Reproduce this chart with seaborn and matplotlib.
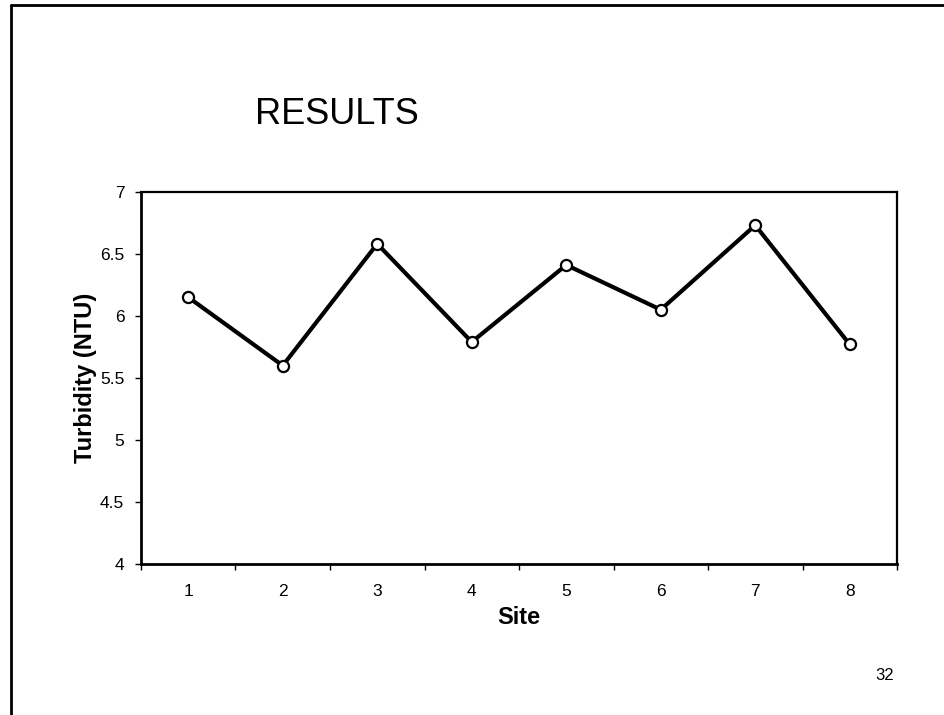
import matplotlib
matplotlib.use("Agg")
import matplotlib.pyplot as plt
from matplotlib.lines import Line2D
import seaborn as sns
import pandas as pd

sites = [1, 2, 3, 4, 5, 6, 7, 8]
turbidity = [6.15, 5.60, 6.58, 5.79, 6.41, 6.05, 6.73, 5.77]
y_ticks = [4, 4.5, 5, 5.5, 6, 6.5, 7]
y_tick_labels = ["4", "4.5", "5", "5.5", "6", "6.5", "7"]
x_tick_labels = ["1", "2", "3", "4", "5", "6", "7", "8"]

sns.set_theme(style="white")
plt.rcParams["font.family"] = ["Liberation Sans", "DejaVu Sans"]
plt.rcParams["text.color"] = "black"
plt.rcParams["axes.labelcolor"] = "black"
plt.rcParams["xtick.color"] = "black"
plt.rcParams["ytick.color"] = "black"

df = pd.DataFrame({"Site": sites, "Turbidity": turbidity})

fig = plt.figure(figsize=(9.45, 7.15), dpi=100)
ax = fig.add_axes([141 / 945, 1 - 564.3 / 715, (897 - 141) / 945, (564.3 - 191.7) / 715])

sns.lineplot(data=df, x="Site", y="Turbidity", ax=ax, color="black", linewidth=3,
             marker="o", markersize=8, markerfacecolor="white",
             markeredgecolor="black", markeredgewidth=1.6)

ax.set_xlim(0.5, 8.5)
ax.set_ylim(4, 7)
ax.set_yticks(y_ticks)
ax.set_yticklabels(y_tick_labels, fontsize=12.5)
ax.set_xticks(sites)
ax.set_xticklabels(x_tick_labels, fontsize=12.5)
ax.set_xticks([s - 0.5 for s in sites] + [8.5], minor=True)
ax.tick_params(axis="x", which="major", length=0, pad=14)
ax.tick_params(axis="x", which="minor", length=4, width=1, color="black", direction="out", bottom=True)
ax.tick_params(axis="y", which="major", length=4, width=1, color="black", direction="out", left=True, pad=8)

for side, lw in [("left", 2.0), ("bottom", 2.0), ("top", 1.6), ("right", 1.6)]:
    ax.spines[side].set_visible(True)
    ax.spines[side].set_color("black")
    ax.spines[side].set_linewidth(lw)

ax.set_xlabel("Site", fontsize=17, fontweight="bold", labelpad=5)
ax.set_ylabel("Turbidity (NTU)", fontsize=17, fontweight="bold", labelpad=2)
ax.grid(False)

fig.text(337 / 945, 1 - 114 / 715, "RESULTS", fontsize=26, ha="center", va="center")
fig.text(885 / 945, 1 - 675 / 715, "32", fontsize=12, ha="center", va="center")

fig.add_artist(Line2D([11 / 945, 11 / 945], [0, 1 - 5 / 715], transform=fig.transFigure,
                      color="black", linewidth=2))
fig.add_artist(Line2D([11 / 945, 1], [1 - 5 / 715, 1 - 5 / 715], transform=fig.transFigure,
                      color="black", linewidth=2))

fig.savefig("out.png", dpi=100)
